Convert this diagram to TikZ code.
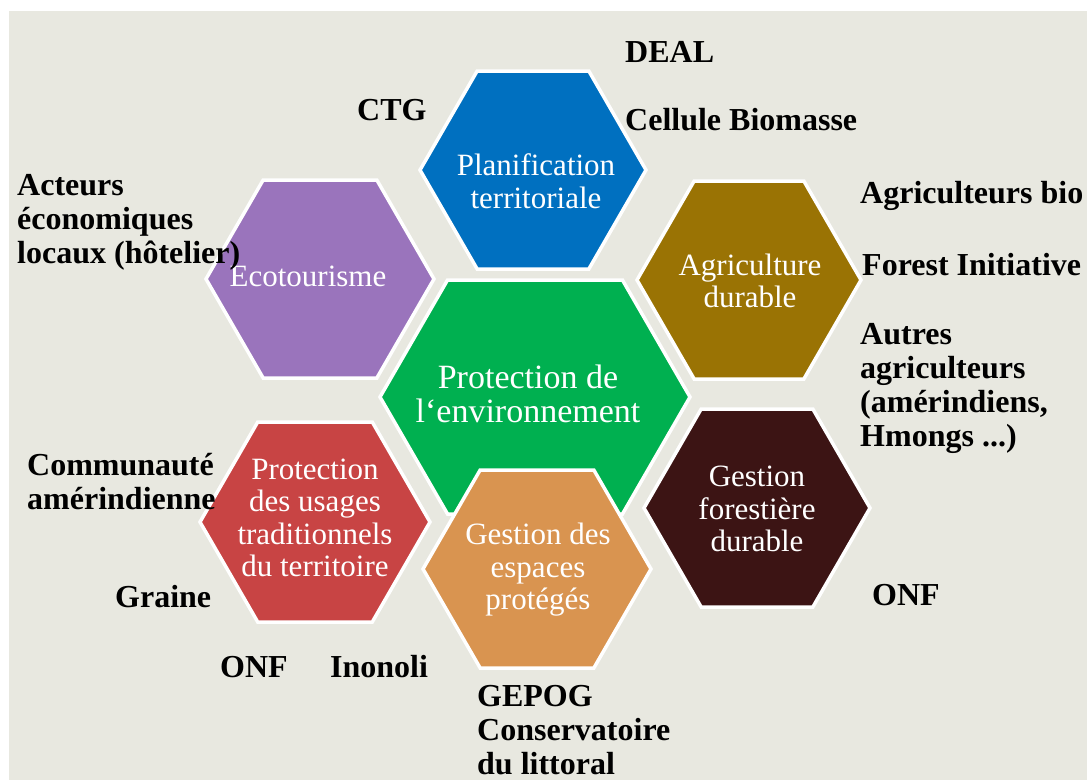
\documentclass[tikz,border=0pt]{standalone}
\usepackage{fontspec}
\setmainfont{Liberation Serif}
\definecolor{bgc}{HTML}{E8E8E0}
\definecolor{hgreen}{HTML}{00B050}
\definecolor{hblue}{HTML}{0070C0}
\definecolor{hpurple}{HTML}{9A74BC}
\definecolor{hgold}{HTML}{9A7304}
\definecolor{hred}{HTML}{C84444}
\definecolor{hbrown}{HTML}{3C1414}
\definecolor{horange}{HTML}{D99450}
\newcommand{\hexcell}[5]{%
  \filldraw[fill=#5, draw=white, line width=3.5pt, line join=miter]
    ({#1-#3},{#2}) -- ({#1-#3+0.57735*#4},{#2-#4}) -- ({#1+#3-0.57735*#4},{#2-#4})
    -- ({#1+#3},{#2}) -- ({#1+#3-0.57735*#4},{#2+#4}) -- ({#1-#3+0.57735*#4},{#2+#4}) -- cycle;}
\tikzset{
  hextext/.style={text=white, align=center, inner sep=0pt, font=\fontsize{31}{32.5}\selectfont},
  lab/.style={text=black, align=left, inner sep=0pt, anchor=west, font=\bfseries\fontsize{32}{34}\selectfont}
}
\begin{document}
\begin{tikzpicture}[x=1pt,y=-1pt]
\useasboundingbox (0,0) rectangle (1087,780);
\fill[white] (0,0) rectangle (1087,780);
\fill[bgc] (9,11) rectangle (1087,780);
% hexagons
\hexcell{535}{397}{155}{117}{hgreen}
\hexcell{533}{170}{113}{99}{hblue}
\hexcell{320}{279}{114}{99}{hpurple}
\hexcell{749}{280}{112}{99}{hgold}
\hexcell{315}{522}{115}{100}{hred}
\hexcell{757}{508}{113}{99}{hbrown}
\hexcell{537}{569}{114}{99}{horange}
% hexagon texts
\node[hextext] (tplan) at (536,181) {Planification\\territoriale};
\node[hextext] (teco) at (308,276) {Ecotourisme};
\node[hextext] (tagri) at (750,281) {Agriculture\\durable};
\node[hextext, font=\fontsize{34}{34}\selectfont] (tenv) at (528,394) {Protection de\\l‘environnement};
\node[hextext] (tusag) at (315,518) {Protection\\des usages\\traditionnels\\du territoire};
\node[hextext] (tfor) at (757,509) {Gestion\\forestière\\durable};
\node[hextext] (tesp) at (538,570) {Gestion des\\espaces\\protégés};
% labels
\node[lab] (deal) at (625,52) {DEAL};
\node[lab] (cellule) at (625,120) {Cellule Biomasse};
\node[lab] (ctg) at (357,110) {CTG};
\node[lab] (acteurs) at (17,222) {Acteurs\\économiques\\locaux (hôtelier)};
\node[lab] (agribio) at (860,196) {Agriculteurs bio};
\node[lab] (forest) at (862,265) {Forest Initiative};
\node[lab] (autres) at (860,388) {Autres\\agriculteurs\\(amérindiens,\\Hmongs ...)};
\node[lab] (commu) at (27,482) {Communauté\\amérindienne};
\node[lab] (graine) at (115,597) {Graine};
\node[lab] (onfa) at (220,667) {ONF};
\node[lab] (inonoli) at (330,667) {Inonoli};
\node[lab] (gepog) at (477,730) {GEPOG\\Conservatoire\\du littoral};
\node[lab] (onfb) at (872,595) {ONF};
\end{tikzpicture}
\end{document}
